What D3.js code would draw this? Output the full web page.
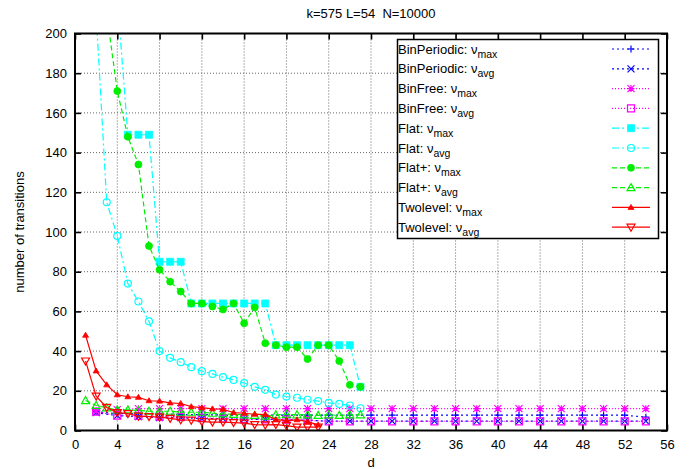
<!DOCTYPE html>
<html>
<head>
<meta charset="utf-8">
<script src="https://cdn.jsdelivr.net/npm/d3@7"></script>
<style>
  body { margin: 0; background: #fff; }
  text { font-family: "Liberation Sans", Arial, sans-serif; font-size: 13px; fill: #000; white-space: pre; }
</style>
</head>
<body>
<svg id="chart" width="693" height="469"></svg>
<script>
// even d values used by the Bin* runs
const dBin = [2, 4, 6, 8, 10, 12, 14, 16, 18, 20, 22, 24, 26, 28, 30, 32, 34, 36, 38, 40, 42, 44, 46, 48, 50, 52, 54];
const binPeriodicMax = [9.5, 8.5, 8.5, 8.5, 8, 8, 7.8, 7.7, 7.7, 7.7, 7.7, 7.7, 7.7, 7.7, 7.7, 7.7, 7.7, 7.7, 7.7, 7.7, 7.7, 7.7, 7.7, 7.7, 7.7, 7.7, 6.7];
const binPeriodicAvg = [9, 7.5, 7, 6.5, 6.5, 6, 6, 5.7, 5.6, 5.5, 5.2, 4.7, 4.7, 4.7, 4.7, 4.7, 4.7, 4.7, 4.7, 4.7, 4.7, 4.7, 4.7, 4.7, 4.7, 4.7, 4.7];
const binFreeMax = [10, 10.5, 11, 11, 11, 11, 11, 11, 11, 11, 11, 11, 11, 11, 11, 11, 11, 11, 11, 11, 11, 11, 11, 11, 11, 11, 11];
const binFreeAvg = [9.5, 7.5, 7.3, 7, 6.8, 6.5, 6, 5.7, 5.6, 5.5, 5.2, 4.6, 4.6, 4.6, 4.6, 4.6, 4.6, 4.6, 4.6, 4.6, 4.6, 4.6, 4.6, 4.6, 4.6, 4.6, 4.6];

const dFlatMax = d3.range(4, 28);
const flatMax = [218, 149, 149, 149, 85, 85, 85, 64, 64, 64, 64, 64, 64, 64, 64, 43, 43, 43, 43, 43, 43, 43, 43, 22];
const dFlatAvg = d3.range(2, 28);
const flatAvg = [210, 115, 98, 74, 65, 55, 40, 36.6, 34.4, 31.9, 29.9, 28.5, 26.9, 25.5, 23.9, 22, 20.5, 18.1, 17.1, 16.5, 15.5, 14.8, 13.9, 13.4, 12.6, 11.2];

const dFlatPlusMax = d3.range(3, 28);
const flatPlusMax = [210, 171, 148, 134, 93, 81, 75, 70, 64, 64, 62.5, 61, 64, 54, 62, 44, 43, 42, 42, 36, 43, 43, 35, 23, 22];
const dFlatPlusAvg = d3.range(1, 28);
const flatPlusAvg = [15.1, 12.6, 11.4, 10.4, 10.4, 10.1, 9.7, 9.7, 9.7, 9.2, 9.2, 9.2, 8.7, 8.4, 8.1, 7.9, 7.6, 7.2, 7.9, 8.1, 7.9, 7.9, 7.6, 7.9, 7.6, 7.9, 7.9];

const dTwo = d3.range(1, 24);
const twolevelMax = [48, 30, 23, 18, 17, 16.7, 15, 14.8, 13.9, 13.6, 12, 11.5, 10.9, 10.7, 9, 8.7, 8.2, 8, 5.5, 5, 5.4, 4.5, 2.8];
const twolevelAvg = [35, 17.3, 11.6, 9, 8.5, 7.2, 7, 6.7, 6.1, 5.4, 5.2, 4.5, 4.2, 4.2, 4, 3.7, 3, 2.8, 3, 2.5, 1.7, 1.7, 1.7];

const xTicks = d3.range(0, 57, 4);
const yTicks = d3.range(0, 201, 20);

const series = [
  { name: 'BinPeriodic', sub: 'max', d: dBin, v: binPeriodicMax, color: '#0000ff', dash: '2,3', mark: 'plus' },
  { name: 'BinPeriodic', sub: 'avg', d: dBin, v: binPeriodicAvg, color: '#0000ff', dash: '2,3', mark: 'cross' },
  { name: 'BinFree', sub: 'max', d: dBin, v: binFreeMax, color: '#ff00ff', dash: '1,2', mark: 'star' },
  { name: 'BinFree', sub: 'avg', d: dBin, v: binFreeAvg, color: '#ff00ff', dash: '1,2', mark: 'square' },
  { name: 'Flat', sub: 'max', d: dFlatMax, v: flatMax, color: '#00ffff', dash: '7,3,2,3', mark: 'squareFill' },
  { name: 'Flat', sub: 'avg', d: dFlatAvg, v: flatAvg, color: '#00ffff', dash: '7,3,2,3', mark: 'circle' },
  { name: 'Flat+', sub: 'max', d: dFlatPlusMax, v: flatPlusMax, color: '#00ee00', dash: '5,3', mark: 'circleFill' },
  { name: 'Flat+', sub: 'avg', d: dFlatPlusAvg, v: flatPlusAvg, color: '#00ee00', dash: '5,3', mark: 'triangle' },
  { name: 'Twolevel', sub: 'max', d: dTwo, v: twolevelMax, color: '#ff0000', dash: null, mark: 'triangleFill' },
  { name: 'Twolevel', sub: 'avg', d: dTwo, v: twolevelAvg, color: '#ff0000', dash: null, mark: 'triangleDown' },
];

const margin = { left: 75, right: 667, top: 33.5, bottom: 430.5 };
const svg = d3.select('#chart');
const x = d3.scaleLinear().domain([0, 56]).range([margin.left, margin.right]);
const y = d3.scaleLinear().domain([0, 200]).range([margin.bottom, margin.top]);

// grid
const grid = svg.append('g').attr('stroke', '#666').attr('stroke-dasharray', '1,2').attr('stroke-width', 1);
grid.selectAll('.gx').data(xTicks.slice(1, -1)).enter().append('line')
  .attr('x1', d => x(d)).attr('x2', d => x(d))
  .attr('y1', margin.top).attr('y2', margin.bottom);
grid.selectAll('.gy').data(yTicks.slice(1, -1)).enter().append('line')
  .attr('x1', margin.left).attr('x2', margin.right)
  .attr('y1', d => y(d)).attr('y2', d => y(d));

// axes (ticks point inward, mirrored on top and right)
function styleAxis(g) {
  g.select('.domain').remove();
  g.selectAll('.tick line').attr('stroke', '#000').attr('stroke-width', 1.6);
  g.selectAll('.tick text').style('font-size', '13px').attr('fill', '#000');
}
svg.append('g').attr('transform', `translate(0,${margin.bottom})`)
  .call(d3.axisBottom(x).tickValues(xTicks).tickSize(-6).tickPadding(9)).call(styleAxis);
svg.append('g').attr('transform', `translate(0,${margin.top})`)
  .call(d3.axisTop(x).tickValues(xTicks).tickSize(-6).tickFormat('')).call(styleAxis);
svg.append('g').attr('transform', `translate(${margin.left},0)`)
  .call(d3.axisLeft(y).tickValues(yTicks).tickSize(-6).tickPadding(8)).call(styleAxis);
svg.append('g').attr('transform', `translate(${margin.right},0)`)
  .call(d3.axisRight(y).tickValues(yTicks).tickSize(-6).tickFormat('')).call(styleAxis);

// markers
function markerPath(type) {
  const s = 3.5;
  switch (type) {
    case 'plus': return `M${-s},0H${s}M0,${-s}V${s}`;
    case 'cross': return `M${-s},${-s}L${s},${s}M${-s},${s}L${s},${-s}`;
    case 'star': return `M${-s},0H${s}M0,${-s}V${s}M${-s},${-s}L${s},${s}M${-s},${s}L${s},${-s}`;
    case 'square': case 'squareFill': return `M${-s},${-s}H${s}V${s}H${-s}Z`;
    case 'circle': case 'circleFill': return `M${s},0A${s},${s},0,1,1,${-s},0A${s},${s},0,1,1,${s},0Z`;
    case 'triangle': return `M0,${-s - 0.5}L${s + 0.5},${s - 0.5}L${-s - 0.5},${s - 0.5}Z`;
    case 'triangleFill': return `M0,${-3}L3,2L-3,2Z`;
    case 'triangleDown': return `M0,${s + 0.5}L${s + 0.5},${-s + 0.5}L${-s - 0.5},${-s + 0.5}Z`;
  }
}
function drawMarks(sel, s) {
  const filled = /Fill$/.test(s.mark);
  sel.attr('d', markerPath(s.mark))
    .attr('fill', filled ? s.color : 'none')
    .attr('stroke', s.color)
    .attr('stroke-width', filled ? 0.8 : 1.2);
}

svg.append('clipPath').attr('id', 'plotclip').append('rect')
  .attr('x', margin.left).attr('y', margin.top)
  .attr('width', margin.right - margin.left).attr('height', margin.bottom - margin.top);

const plot = svg.append('g').attr('clip-path', 'url(#plotclip)');
const line = d3.line().x(p => x(p[0])).y(p => y(p[1]));

series.forEach(s => {
  const pts = s.d.map((d, i) => [d, s.v[i]]);
  const g = plot.append('g');
  g.append('path').datum(pts)
    .attr('d', line)
    .attr('fill', 'none')
    .attr('stroke', s.color)
    .attr('stroke-width', 1.2)
    .attr('stroke-dasharray', s.dash);
  g.selectAll('path.mk').data(pts).enter().append('path')
    .attr('class', 'mk')
    .attr('transform', p => `translate(${x(p[0])},${y(p[1])})`)
    .each(function () { drawMarks(d3.select(this), s); });
});

// frame
svg.append('rect')
  .attr('x', margin.left).attr('y', margin.top)
  .attr('width', margin.right - margin.left).attr('height', margin.bottom - margin.top)
  .attr('fill', 'none').attr('stroke', '#000').attr('stroke-width', 2);

// legend
const lg = svg.append('g');
lg.append('rect').attr('x', 397.5).attr('y', 39.5).attr('width', 261).attr('height', 199)
  .attr('fill', '#fff').attr('stroke', '#000').attr('stroke-width', 1.5);
series.forEach((s, i) => {
  const cy = 49 + i * 19.8;
  const t = lg.append('text').attr('x', 398).attr('y', cy + 4.5);
  t.append('tspan').text(`${s.name}: ν`);
  t.append('tspan').attr('dy', 4).style('font-size', '10.5px').text(s.sub);
  lg.append('line').attr('x1', 612).attr('x2', 650).attr('y1', cy).attr('y2', cy)
    .attr('stroke', s.color).attr('stroke-width', 1.2).attr('stroke-dasharray', s.dash);
  lg.append('path').attr('transform', `translate(631,${cy})`)
    .call(sel => drawMarks(sel, s));
});

// titles
svg.append('text').attr('x', 371).attr('y', 18).attr('text-anchor', 'middle').text('k=575 L=54  N=10000');
svg.append('text').attr('x', 371).attr('y', 467).attr('text-anchor', 'middle').text('d');
svg.append('text').attr('transform', 'translate(24,232) rotate(-90)').attr('text-anchor', 'middle').text('number of transitions');
</script>
</body>
</html>
